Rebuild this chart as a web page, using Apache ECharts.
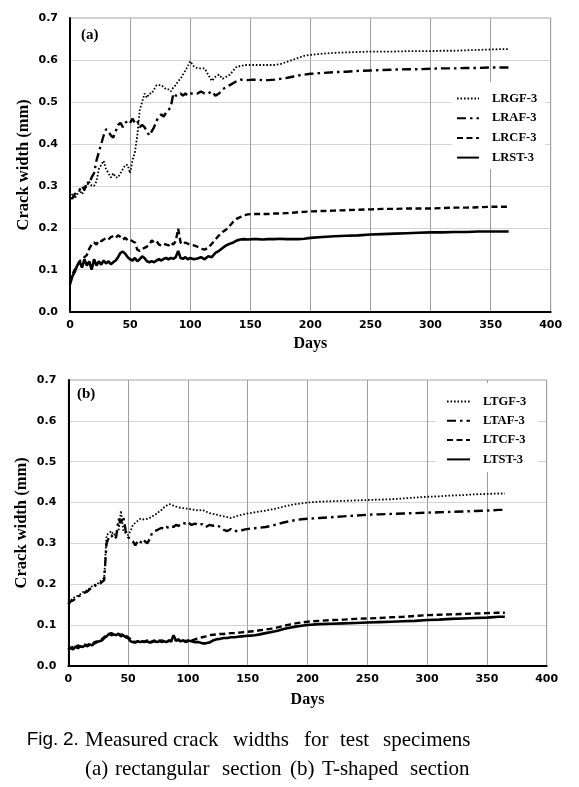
<!DOCTYPE html>
<html>
<head>
<meta charset="utf-8">
<script src="https://cdn.jsdelivr.net/npm/echarts@6/dist/echarts.min.js"></script>
<style>
html,body{margin:0;padding:0;background:#fff;}
#c{width:579px;height:787px;}
</style>
</head>
<body>
<div id="c"></div>
<script>
// Shared day axis (measurement days)
var days = [
  0,2,4,6,8,10,12,14,16,18,
  20,22,24,26,28,30,32,34,36,38,
  40,42,44,46,48,50,52,54,56,58,
  60,62,64,66,68,70,72,74,76,78,
  80,82,84,86,88,90,92,94,96,98,
  100,103,106,109,112,115,118,121,124,127,
  130,133,136,139,142,145,148,152,156,160,
  165,170,175,180,185,190,195,200,210,220,
  230,240,250,260,270,280,290,300,310,320,
  330,340,350,360,365
];
var xTicks = [0,50,100,150,200,250,300,350,400];
var yTicks = [0.0,0.1,0.2,0.3,0.4,0.5,0.6,0.7];

// (a) rectangular section
var namesA = ['LRGF-3','LRAF-3','LRCF-3','LRST-3'];
var LRGF = [
  .27,.28,.27,.28,.29,.28,.29,.30,.31,.30,
  .30,.31,.34,.35,.36,.34,.33,.32,.33,.32,
  .32,.33,.34,.35,.35,.33,.36,.38,.42,.48,
  .50,.52,.51,.52,.52,.53,.54,.54,.54,.535,
  .53,.53,.525,.535,.54,.55,.555,.565,.575,.585,
  .597,.585,.58,.58,.58,.565,.55,.56,.565,.555,
  .56,.565,.575,.585,.585,.588,.588,.588,.588,.588,
  .588,.588,.59,.595,.60,.605,.61,.612,.615,.617,
  .618,.619,.62,.62,.62,.621,.621,.621,.622,.622,
  .623,.624,.625,.626,.626
];
var LRAF = [
  .27,.27,.28,.285,.29,.30,.29,.31,.305,.32,
  .33,.36,.38,.40,.42,.435,.43,.42,.415,.43,
  .445,.45,.44,.45,.455,.45,.46,.45,.455,.44,
  .445,.44,.43,.42,.43,.44,.455,.465,.47,.465,
  .475,.48,.49,.52,.515,.515,.52,.515,.52,.515,
  .52,.52,.52,.525,.52,.52,.525,.515,.52,.53,
  .535,.54,.545,.55,.553,.553,.552,.553,.553,.552,
  .552,.553,.555,.557,.56,.563,.565,.567,.569,.571,
  .572,.574,.575,.576,.577,.578,.578,.579,.58,.58,
  .581,.581,.582,.582,.582
];
var LRCF = [
  .07,.09,.10,.11,.12,.125,.13,.135,.15,.16,
  .165,.16,.17,.168,.172,.175,.172,.178,.18,.176,
  .182,.178,.172,.176,.17,.172,.168,.165,.148,.145,
  .15,.152,.155,.16,.17,.165,.168,.16,.158,.162,
  .16,.158,.165,.16,.168,.198,.165,.16,.165,.162,
  .16,.158,.155,.15,.148,.152,.162,.172,.182,.19,
  .196,.205,.215,.222,.226,.23,.232,.233,.233,.233,
  .233,.234,.234,.235,.236,.237,.238,.239,.24,.241,
  .242,.243,.244,.245,.245,.246,.246,.246,.247,.248,
  .248,.249,.25,.25,.25
];
var LRST = [
  .065,.085,.095,.11,.12,.105,.125,.11,.12,.10,
  .125,.11,.12,.112,.122,.115,.12,.113,.118,.122,
  .13,.14,.143,.138,.13,.125,.122,.128,.12,.125,
  .132,.128,.12,.118,.12,.118,.122,.125,.122,.126,
  .128,.125,.128,.126,.13,.145,.128,.126,.13,.125,
  .128,.125,.127,.13,.125,.132,.13,.14,.145,.152,
  .158,.162,.165,.17,.172,.173,.172,.173,.173,.172,
  .173,.173,.174,.173,.173,.173,.174,.176,.178,.18,
  .181,.182,.184,.185,.186,.187,.188,.189,.189,.19,
  .19,.191,.191,.191,.191
];

// (b) T-shaped section
var namesB = ['LTGF-3','LTAF-3','LTCF-3','LTST-3'];
var LTGF = [
  .155,.16,.165,.17,.172,.175,.18,.183,.185,.19,
  .195,.198,.20,.205,.21,.215,.32,.325,.33,.32,
  .325,.33,.38,.33,.325,.32,.33,.345,.35,.355,
  .36,.358,.36,.36,.362,.365,.37,.372,.378,.382,
  .388,.392,.396,.395,.392,.39,.388,.387,.386,.385,
  .385,.383,.382,.38,.382,.378,.374,.372,.37,.368,
  .366,.364,.362,.365,.368,.37,.372,.374,.376,.378,
  .38,.383,.386,.39,.393,.396,.398,.40,.402,.403,
  .404,.405,.406,.407,.408,.41,.412,.414,.415,.417,
  .418,.42,.421,.422,.422
];
var LTAF = [
  .15,.158,.16,.165,.17,.172,.176,.18,.182,.188,
  .19,.195,.20,.20,.205,.21,.30,.315,.32,.31,
  .315,.36,.35,.365,.33,.315,.31,.305,.295,.305,
  .30,.31,.305,.30,.31,.325,.33,.332,.335,.338,
  .335,.34,.338,.342,.34,.345,.343,.345,.35,.348,
  .352,.345,.348,.344,.347,.34,.345,.343,.345,.34,
  .333,.33,.335,.33,.33,.332,.334,.336,.337,.338,
  .34,.343,.347,.351,.354,.357,.359,.36,.362,.364,
  .366,.368,.37,.371,.372,.373,.374,.375,.376,.377,
  .378,.379,.38,.382,.382
];
var LTCF = [
  .045,.042,.048,.045,.05,.047,.05,.052,.05,.055,
  .053,.058,.06,.062,.065,.07,.075,.078,.08,.077,
  .08,.078,.076,.078,.074,.07,.065,.06,.058,.06,
  .062,.058,.06,.062,.058,.06,.062,.058,.062,.058,
  .06,.056,.062,.06,.065,.062,.065,.06,.062,.058,
  .06,.062,.065,.068,.07,.072,.075,.076,.077,.078,
  .078,.079,.08,.08,.081,.082,.083,.084,.085,.087,
  .089,.091,.094,.098,.101,.104,.106,.108,.11,.112,
  .113,.115,.116,.117,.119,.12,.122,.124,.125,.126,
  .127,.128,.129,.13,.13
];
var LTST = [
  .04,.045,.04,.047,.043,.048,.046,.05,.048,.052,
  .05,.055,.058,.06,.062,.068,.072,.078,.075,.077,
  .075,.078,.072,.075,.07,.068,.06,.058,.057,.06,
  .058,.06,.058,.06,.057,.058,.06,.058,.06,.062,
  .06,.058,.062,.06,.075,.062,.063,.06,.062,.06,
  .062,.06,.058,.058,.055,.055,.057,.062,.065,.066,
  .068,.068,.07,.07,.071,.072,.073,.074,.075,.077,
  .08,.083,.086,.09,.093,.096,.098,.10,.102,.103,
  .104,.105,.106,.107,.108,.109,.11,.112,.113,.115,
  .116,.117,.118,.12,.12
];

var styles = [
  {width:1.8, type:[1.6,1.9]},      // GF dotted
  {width:2.4, type:[9,4,2.5,4]},    // AF dash-dot
  {width:2.4, type:[6,3.5]},        // CF dashed
  {width:2.6, type:'solid'}         // ST solid
];

function pairs(vals){ return days.map(function(d,i){ return [d, vals[i]]; }); }

var serifBold = {fontFamily:'Liberation Serif', fontWeight:'bold', color:'#000'};

function mkX(gi, gap){
  return {
    gridIndex: gi, type:'value', min:0, max:400, interval:50,
    axisLine:{show:true, onZero:false, lineStyle:{color:'#000', width:2}},
    axisTick:{show:false},
    axisLabel:{fontFamily:'DejaVu Sans', fontWeight:'bold', fontSize:11, color:'#000', margin:8,
      customValues: xTicks},
    splitLine:{show:true, lineStyle:{color:'#a0a0a0', width:1}},
    name:'Days', nameLocation:'middle', nameGap:gap, nameMoveOverlap:false,
    nameTextStyle:Object.assign({fontSize:16}, serifBold)
  };
}
function mkY(gi){
  return {
    gridIndex: gi, type:'value', min:0, max:0.7, interval:0.1,
    axisLine:{show:true, lineStyle:{color:'#000', width:2}},
    axisTick:{show:false},
    axisLabel:{fontFamily:'DejaVu Sans', fontWeight:'bold', fontSize:11, color:'#000', margin:12,
      formatter:function(v){ return (+v).toFixed(1); }},
    splitLine:{show:true, lineStyle:{color:'#d4d4d4', width:1}},
    name:'Crack width (mm)', nameLocation:'middle', nameGap:38, nameMoveOverlap:false,
    nameTextStyle:Object.assign({fontSize:16.5}, serifBold)
  };
}

var series = [];
[LRGF,LRAF,LRCF,LRST].forEach(function(v,i){
  series.push({name:namesA[i], type:'line', xAxisIndex:0, yAxisIndex:0, data:pairs(v),
    symbol:'none', showSymbol:false, animation:false, z:3,
    lineStyle:{color:'#000', width:styles[i].width, type:styles[i].type},
    itemStyle:{color:'#000'}});
});
[LTGF,LTAF,LTCF,LTST].forEach(function(v,i){
  series.push({name:namesB[i], type:'line', xAxisIndex:1, yAxisIndex:1, data:pairs(v),
    symbol:'none', showSymbol:false, animation:false, z:3,
    lineStyle:{color:'#000', width:styles[i].width, type:styles[i].type},
    itemStyle:{color:'#000'}});
});

var legendText = Object.assign({fontSize:12.5, padding:[0,0,0,8]}, serifBold);
var noSym = {color:'rgba(0,0,0,0)', borderColor:'rgba(0,0,0,0)', borderWidth:0, opacity:0};

var option = {
  animation:false,
  backgroundColor:'#fff',
  grid:[
    {left:70, top:18, width:480.7, height:293.7, show:true, borderColor:'#a0a0a0', borderWidth:1},
    {left:68.3, top:380, width:478.4, height:285.8, show:true, borderColor:'#a0a0a0', borderWidth:1}
  ],
  xAxis:[mkX(0,24), mkX(1,26)],
  yAxis:[mkY(0), mkY(1)],
  legend:[
    {data:namesA, orient:'vertical', left:452, top:82, itemWidth:22, itemHeight:14, itemGap:6.7,
     backgroundColor:'#fff', padding:[10,8,5,4], textStyle:legendText, itemStyle:noSym, z:10},
    {data:namesB, orient:'vertical', left:436, top:383, itemWidth:23, itemHeight:14, itemGap:6.3,
     backgroundColor:'#fff', padding:[12,12,6,10], textStyle:legendText, itemStyle:noSym, z:10}
  ],
  graphic:[
    {type:'text', left:81, top:28, style:{text:'(a)', font:'bold 15px "Liberation Serif"', fill:'#000'}},
    {type:'text', left:77, top:387, style:{text:'(b)', font:'bold 15px "Liberation Serif"', fill:'#000'}}
  ],
  series: series
};

// caption words
var cap1 = [['Fig.',26.7,1],['2.',63,1],['Measured',85,0],['crack',173,0],['widths',233,0],['for',304,0],['test',340,0],['specimens',383,0]];
var cap2 = [['(a)',85,0],['rectangular',115,0],['section',222,0],['(b)',290,0],['T-shaped',322,0],['section',410,0]];
cap1.forEach(function(w){
  option.graphic.push({type:'text', x:w[1], y:740, style:{text:w[0], font:(w[2]?'19px "Liberation Sans"':'21px "Liberation Serif"'), fill:'#000', verticalAlign:'middle'}});
});
cap2.forEach(function(w){
  option.graphic.push({type:'text', x:w[1], y:769, style:{text:w[0], font:'21px "Liberation Serif"', fill:'#000', verticalAlign:'middle'}});
});

var chart = echarts.init(document.getElementById('c'), null, {renderer:'canvas'});
chart.setOption(option);
</script>
</body>
</html>
